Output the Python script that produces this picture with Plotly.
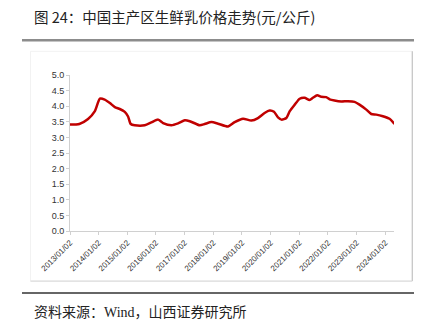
import plotly.graph_objects as go

dates = [
    "2013-01-02", "2013-05-01", "2013-08-20", "2013-11-15", "2014-01-18", "2014-03-20",
    "2014-05-25", "2014-07-27", "2014-09-28", "2014-12-01", "2015-01-12", "2015-02-15",
    "2015-04-06", "2015-08-12", "2015-11-05", "2016-01-30", "2016-04-02", "2016-07-17",
    "2016-10-10", "2017-01-04", "2017-03-08", "2017-07-13", "2017-09-14", "2017-12-10",
    "2018-03-03", "2018-07-08", "2018-10-01", "2019-01-16", "2019-05-01", "2019-07-25",
    "2019-10-17", "2019-12-20", "2020-02-14", "2020-04-05", "2020-05-19", "2020-07-21",
    "2020-09-02", "2020-11-04", "2021-01-06", "2021-03-10", "2021-05-12", "2021-06-24",
    "2021-08-18", "2021-10-08", "2021-12-10", "2022-01-23", "2022-03-26", "2022-06-20",
    "2022-09-13", "2022-12-06", "2023-02-07", "2023-05-05", "2023-07-07", "2023-09-09",
    "2023-12-02", "2024-02-25", "2024-04-28",
]
prices = [
    3.41, 3.43, 3.59, 3.84, 4.24, 4.21,
    4.10, 3.97, 3.91, 3.82, 3.67, 3.43,
    3.39, 3.39, 3.48, 3.57, 3.46, 3.39,
    3.45, 3.55, 3.52, 3.39, 3.43, 3.49,
    3.44, 3.35, 3.49, 3.60, 3.54, 3.62,
    3.78, 3.86, 3.82, 3.64, 3.57, 3.62,
    3.84, 4.05, 4.24, 4.27, 4.20, 4.27,
    4.35, 4.30, 4.29, 4.22, 4.18, 4.15,
    4.16, 4.14, 4.05, 3.89, 3.75, 3.73,
    3.68, 3.60, 3.43,
]
tick_dates = ["%d-01-02" % y for y in range(2013, 2025)]
tick_labels = ["%d/01/02" % y for y in range(2013, 2025)]
y_ticks = [0.0, 0.5, 1.0, 1.5, 2.0, 2.5, 3.0, 3.5, 4.0, 4.5, 5.0]

title = "图 24：中国主产区生鲜乳价格走势(元/公斤)"
source = "资料来源：Wind，山西证券研究所"

fig = go.Figure()
fig.add_trace(go.Scatter(
    x=dates, y=prices, mode="lines",
    line=dict(color="#C00000", width=2.5, shape="spline", smoothing=0.6),
    showlegend=False, hoverinfo="skip",
))

W, H = 429, 335
L, R, T, B = 70, 394, 75.3, 231.0
pw, ph = R - L, B - T

def px(x):
    return (x - L) / pw

def py(y):
    return (B - y) / ph

shapes = [
    dict(type="line", xref="paper", yref="paper", x0=px(22), x1=px(414), y0=py(40.7), y1=py(40.7),
         line=dict(color="#8c8c8c", width=2.5)),
    dict(type="rect", xref="paper", yref="paper", x0=px(30.5), x1=px(412.3), y0=py(281), y1=py(51.7),
         line=dict(color="#f2f2f2", width=1)),
    dict(type="line", xref="paper", yref="paper", x0=px(412.3), x1=px(412.3), y0=py(281), y1=py(51.7),
         line=dict(color="#c4c4c4", width=1.2)),
    dict(type="line", xref="paper", yref="paper", x0=px(30.5), x1=px(412.3), y0=py(281), y1=py(281),
         line=dict(color="#d6d6d6", width=1)),
    dict(type="line", xref="paper", yref="paper", x0=px(22), x1=px(414), y0=py(293), y1=py(293),
         line=dict(color="#333333", width=1.5)),
]

annotations = [
    dict(text=title, xref="paper", yref="paper", x=px(32), y=py(17), xanchor="left", yanchor="middle",
         showarrow=False, font=dict(family="Noto Sans CJK SC", size=14.5, color="#222222")),
    dict(text=source, xref="paper", yref="paper", x=px(32), y=py(312), xanchor="left", yanchor="middle",
         showarrow=False, font=dict(family="Liberation Serif, Noto Sans CJK SC", size=14, color="#222222")),
]

fig.update_layout(
    width=W, height=H,
    margin=dict(l=L, r=W - R, t=T, b=H - B, pad=0),
    paper_bgcolor="white", plot_bgcolor="white",
    shapes=shapes, annotations=annotations,
    xaxis=dict(
        type="date", range=["2013-01-02", "2024-04-22"],
        tickmode="array", tickvals=tick_dates, ticktext=tick_labels, tickangle=-45,
        showgrid=False, zeroline=False, showline=True, linecolor="#d0d0d0", linewidth=1,
        ticks="outside", ticklen=3, tickcolor="#d0d0d0",
        tickfont=dict(family="Liberation Sans, Arial", size=8, color="#333333"),
    ),
    yaxis=dict(
        range=[0, 5], tickmode="array", tickvals=y_ticks, ticktext=["%.1f" % v for v in y_ticks],
        showgrid=False, zeroline=False, showline=True, linecolor="#d0d0d0", linewidth=1,
        ticks="outside", ticklen=3, tickcolor="#d0d0d0",
        tickfont=dict(family="Liberation Sans, Arial", size=9, color="#333333"),
    ),
)

fig.write_html("out.html")
